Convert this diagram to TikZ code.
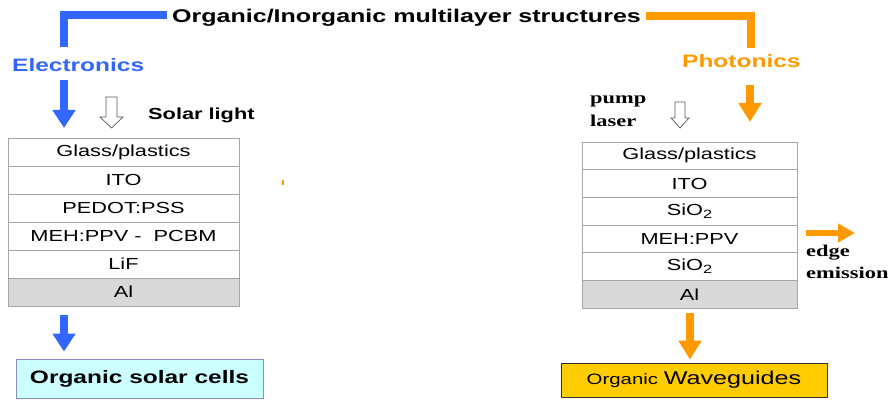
\documentclass[tikz,border=0pt]{standalone}
\usepackage{graphicx}
\usepackage{fontspec}
\setmainfont{Liberation Sans}
\newfontfamily\timesfont{Liberation Serif}
\usetikzlibrary{positioning,arrows.meta}
\definecolor{eblue}{RGB}{51,102,255}
\definecolor{porange}{RGB}{255,153,0}
\definecolor{cellcyan}{RGB}{204,255,255}
\definecolor{wgold}{RGB}{255,204,0}
\definecolor{algray}{RGB}{217,217,217}
\newcommand{\hs}[1]{\scalebox{1.36}[1]{#1}}

\begin{document}
\begin{tikzpicture}[x=1pt,y=-1pt,
  lay/.style={draw=gray!70,line width=0.8pt,inner sep=0pt,outer sep=0pt,font=\fontsize{16}{19}\selectfont},
  llay/.style={lay,minimum width=231pt,minimum height=28pt},
  rlay/.style={lay,minimum width=215pt,minimum height=27.7pt},
  head/.style={anchor=base west,inner sep=0pt,font=\fontsize{18}{20}\selectfont\bfseries},
  serlbl/.style={anchor=base west,inner sep=0pt,font=\fontsize{16.5}{20}\selectfont\timesfont\bfseries},
  bline/.style={eblue,line width=7.5pt},
  oline/.style={porange,line width=7.5pt},
  barrow/.style={eblue,line width=7.5pt,-{Triangle[width=22pt,length=18pt]}},
  oarrow/.style={porange,line width=7.5pt,-{Triangle[width=22pt,length=19pt]}},
  hollow/.style={draw=gray!70!black,fill=white,line width=0.7pt}]
\useasboundingbox (0,0) rectangle (891,401);

% title and the two branches
\node[head,inner xsep=5pt,font=\fontsize{18.4}{20}\selectfont\bfseries] (title) at (167,23) {\hs{Organic/Inorganic multilayer structures}};
\coordinate (bbend) at (64,15);
\coordinate (bend) at (64,47);
\coordinate (obend) at (751,16);
\coordinate (oend) at (751,48);
\draw[bline] (title.west |- bbend) -- (bbend) -- (bend);
\draw[oline] (title.east |- obend) -- (obend) -- (oend);
\node[head,text=eblue] (elec) at (12,72) {\hs{Electronics}};
\node[head,text=porange] (phot) at (682,68) {\hs{Photonics}};

% solar cell stack
\node[llay,anchor=north west] (lglass) at (8,138) {\hs{Glass/plastics}};
\node[llay,below=0pt of lglass] (lito) {\hs{ITO}};
\node[llay,below=0pt of lito] (lpedot) {\hs{PEDOT:PSS}};
\node[llay,below=0pt of lpedot] (lmeh) {\hs{MEH:PPV -~ PCBM}};
\node[llay,below=0pt of lmeh] (llif) {\hs{LiF}};
\node[llay,fill=algray,below=0pt of llif] (lal) {\hs{Al}};

% waveguide stack
\node[rlay,anchor=north west] (rglass) at (582,142) {\hs{Glass/plastics}};
\node[rlay,below=0pt of rglass] (rito) {\hs{ITO}};
\node[rlay,below=0pt of rito] (rsio) {\hs{SiO\raisebox{-0.35ex}{\fontsize{12}{12}\selectfont 2}}};
\node[rlay,below=0pt of rsio] (rmeh) {\hs{MEH:PPV}};
\node[rlay,below=0pt of rmeh] (rsiob) {\hs{SiO\raisebox{-0.35ex}{\fontsize{12}{12}\selectfont 2}}};
\node[rlay,fill=algray,below=0pt of rsiob] (ral) {\hs{Al}};

% results
\node[draw=blue!30!gray!70,fill=cellcyan,line width=0.8pt,minimum width=247pt,minimum height=39pt,
  font=\fontsize{18}{20}\selectfont\bfseries] (cells) at (139.5,378.5) {\hs{Organic solar cells}};
\node[draw=black!80,fill=wgold,line width=0.8pt,minimum width=266pt,minimum height=34pt] (wave) at (694,380)
  {\hs{\fontsize{15}{18}\selectfont Organic \fontsize{18.5}{20}\selectfont Waveguides}};

% arrows
\coordinate (lx) at (64,0);
\coordinate (rx) at (750,0);
\coordinate (wx) at (690,0);
\coordinate (edgetip) at (855,233);
\draw[barrow,shorten <=8pt,shorten >=10pt] (lx |- elec.south) -- (lx |- lglass.north);
\draw[barrow,shorten <=9pt,shorten >=7pt] (lx |- lal.south) -- (lx |- cells.north);
\draw[oarrow,shorten <=17pt,shorten >=20pt] (rx |- phot.south) -- (rx |- rglass.north);
\draw[oarrow,shorten <=5pt,shorten >=3pt] (wx |- ral.south) -- (wx |- wave.north);
\draw[porange,line width=6pt,-{Triangle[width=18pt,length=17pt]},shorten <=9pt] (rmeh.east |- edgetip) -- (edgetip);

% light in
\draw[hollow] (106,97) -- ++(11,0) -- ++(0,20) -- ++(6,0) -- ++(-11.5,11) -- ++(-11.5,-11) -- ++(6,0) -- cycle;
\draw[hollow] (675,102) -- ++(10,0) -- ++(0,16) -- ++(4,0) -- ++(-9,10) -- ++(-9,-10) -- ++(4,0) -- cycle;
\node[head,font=\fontsize{16}{19}\selectfont\bfseries] (solar) at (148,120) {\hs{Solar light}};
\node[serlbl] (pump) at (590,104) {\hs{pump}};
\node[serlbl] (laser) at (590,127) {\hs{laser}};
\node[serlbl] (edge) at (806,256) {\hs{edge}};
\node[serlbl] (emis) at (806,278) {\hs{emission}};
\draw[porange,line width=1.5pt] (283,180) -- (283,185);
\end{tikzpicture}
\end{document}
